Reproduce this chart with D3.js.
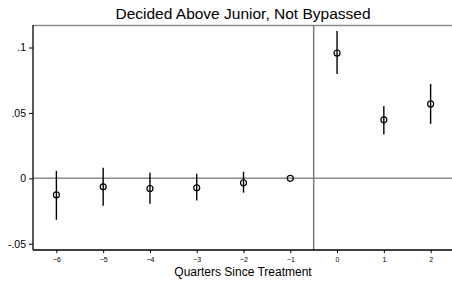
<!DOCTYPE html>
<html><head><meta charset="utf-8">
<script src="https://cdn.jsdelivr.net/npm/d3@7"></script>
<style>body{margin:0;background:#fff}svg{display:block;font-family:"Liberation Sans",Arial,sans-serif}</style>
</head><body><svg id="c" width="452" height="281"></svg>
<script>
const quarters = [-6, -5, -4, -3, -2, -1, 0, 1, 2];
const estimates = [-0.0126, -0.0065, -0.0078, -0.0073, -0.0034, 0, 0.0958, 0.0447, 0.0569];
const ciLow = [-0.0317, -0.0210, -0.0195, -0.0170, -0.0110, 0, 0.0798, 0.0335, 0.0416];
const ciHigh = [0.0057, 0.0080, 0.0042, 0.0034, 0.0050, 0, 0.1126, 0.0553, 0.0721];
const yTicks = [-0.05, 0, 0.05, 0.1];
const yTickLabels = ["-.05", "0", ".05", ".1"];
const title = "Decided Above Junior, Not Bypassed";
const xTitle = "Quarters Since Treatment";

const svg = d3.select("#c");
const L = 33, R = 454, T = 25, B = 250;
const x = d3.scaleLinear().domain([-6.5, 2.5]).range([L, R]);
const y = d3.scaleLinear().domain([-0.0548, 0.1172]).range([B, T]);

// top frame line
svg.append("line").attr("x1", L).attr("x2", 452).attr("y1", T + 0.5).attr("y2", T + 0.5)
  .attr("stroke", "#8c8c8c").attr("stroke-width", 1.5);
// zero line
svg.append("line").attr("x1", L).attr("x2", 452).attr("y1", y(0)).attr("y2", y(0))
  .attr("stroke", "#8c8c8c").attr("stroke-width", 1.5);
// treatment line
svg.append("line").attr("x1", x(-0.5)).attr("x2", x(-0.5)).attr("y1", T).attr("y2", B)
  .attr("stroke", "#7a7a7a").attr("stroke-width", 1.5);

// axes
const yAxis = d3.axisLeft(y).tickValues(yTicks).tickFormat((d, i) => yTickLabels[i]).tickSize(4).tickPadding(3);
const gy = svg.append("g").attr("transform", `translate(${L},0)`).call(yAxis);
gy.select(".domain").attr("d", `M0,${T}V${B}`).attr("stroke", "#000").attr("stroke-width", 1.3);
gy.selectAll("text").attr("font-size", 10.5).attr("fill", "#000").attr("font-family", '"Liberation Sans",Arial,sans-serif');

const xAxis = d3.axisBottom(x).tickValues(quarters).tickFormat(d3.format("d")).tickSize(3).tickPadding(4);
const gx = svg.append("g").attr("transform", `translate(0,${B})`).call(xAxis);
gx.select(".domain").attr("d", `M${L},0H452`).attr("stroke", "#000").attr("stroke-width", 1.3);
gx.selectAll("text").attr("font-size", 7).attr("fill", "#000").attr("font-family", '"Liberation Sans",Arial,sans-serif');

// CI bars
svg.append("g").selectAll("line").data(quarters).join("line")
  .attr("x1", d => x(d)).attr("x2", d => x(d))
  .attr("y1", (d, i) => y(ciLow[i])).attr("y2", (d, i) => y(ciHigh[i]))
  .attr("stroke", "#000").attr("stroke-width", 1.4);
// points
svg.append("g").selectAll("circle").data(quarters).join("circle")
  .attr("cx", d => x(d)).attr("cy", (d, i) => y(estimates[i])).attr("r", 3)
  .attr("fill", "none").attr("stroke", "#000").attr("stroke-width", 1.2);

svg.append("text").attr("x", 243).attr("y", 19).attr("text-anchor", "middle")
  .attr("font-size", 15.5).text(title);
svg.append("text").attr("x", 243).attr("y", 276).attr("text-anchor", "middle")
  .attr("font-size", 12).text(xTitle);
</script></body></html>
